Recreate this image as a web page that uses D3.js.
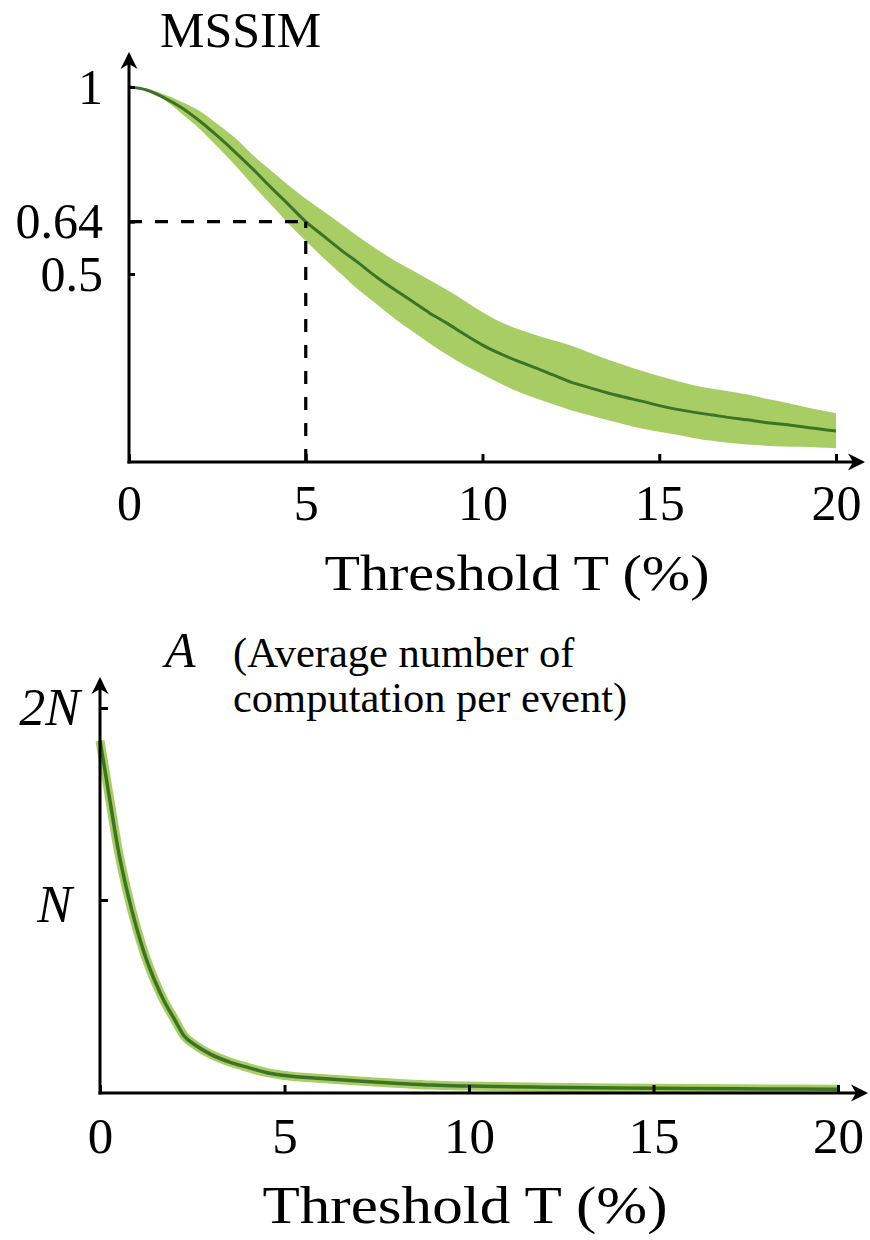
<!DOCTYPE html>
<html>
<head>
<meta charset="utf-8">
<script src="https://cdn.jsdelivr.net/npm/d3@7"></script>
<style>
  html, body { margin: 0; padding: 0; background: #fff; }
  svg { display: block; }
</style>
</head>
<body>
<script>
// ---------- DATA ----------
// Top panel: MSSIM vs threshold T (%)
const mssimT = [0,0.5,1,1.5,2,2.5,3,3.5,4,4.5,5,5.5,6,6.5,7,7.5,8,8.5,9,9.5,10,
                10.5,11,11.5,12,12.5,13,13.5,14,14.5,15,15.5,16,16.5,17,17.5,18,18.5,19,19.5,20];
const mssimMean = [1.000,0.992,0.971,0.944,0.909,0.869,0.826,0.781,0.733,0.687,0.640,
                   0.602,0.564,0.529,0.492,0.459,0.428,0.396,0.368,0.338,0.310,
                   0.287,0.267,0.249,0.230,0.211,0.197,0.183,0.171,0.160,0.148,
                   0.138,0.130,0.123,0.116,0.110,0.103,0.098,0.092,0.086,0.080];
const mssimUpper = [1.000,0.995,0.980,0.960,0.936,0.901,0.864,0.818,0.778,0.738,0.701,
                    0.668,0.634,0.599,0.567,0.537,0.511,0.484,0.457,0.428,0.398,
                    0.372,0.353,0.337,0.323,0.309,0.291,0.273,0.257,0.241,0.227,
                    0.214,0.202,0.193,0.186,0.178,0.167,0.158,0.147,0.137,0.128];
const mssimLower = [1.000,0.989,0.965,0.928,0.888,0.840,0.791,0.738,0.687,0.636,0.588,
                    0.543,0.500,0.457,0.420,0.382,0.348,0.315,0.284,0.256,0.232,
                    0.207,0.186,0.168,0.152,0.136,0.123,0.110,0.098,0.087,0.078,
                    0.070,0.061,0.054,0.048,0.044,0.041,0.039,0.038,0.036,0.034];
const mssimYTicks = [0.5, 0.64, 1];
const markT = 5, markMSSIM = 0.64;

// Bottom panel: average computations per event (in units of N)
const compT = [0,0.25,0.5,0.75,1,1.25,1.5,1.75,2,2.28,2.6,3,3.5,4,4.5,5,6,7,8,9,10,12,14,16,18,20];
const compMean = [1.83,1.54,1.255,1.033,0.849,0.695,0.573,0.469,0.385,0.292,0.242,0.196,
                  0.157,0.128,0.102,0.086,0.070,0.057,0.046,0.036,0.031,0.025,0.021,0.018,0.016,0.014];
const compYTicks = [1, 2];
const compYLabels = ["N", "2N"];

const xTicks = [0, 5, 10, 15, 20];

// ---------- STYLE ----------
const SERIF = '"Liberation Serif", "Times New Roman", serif';
const BAND = "#a8cd64";
const LINE = "#3d7326";

const svg = d3.select("body").append("svg")
  .attr("width", 870).attr("height", 1240)
  .style("background", "#fff");

function arrowHead(x, y, angle) {
  svg.append("path")
    .attr("d", "M0,0 C-4,2 -10,5 -17,8.5 L-12,0 L-17,-8.5 C-10,-5 -4,-2 0,0 Z")
    .attr("transform", `translate(${x},${y}) rotate(${angle})`)
    .attr("fill", "#000");
}

// ================= TOP PANEL =================
const xT = d3.scaleLinear().domain([0, 20]).range([129, 836]);
const yT = d3.scaleLinear().domain([0, 1]).range([461, 87]);
const axisYTop = 462;

const topData = mssimT.map((t, i) => ({t, m: mssimMean[i], u: mssimUpper[i], l: mssimLower[i]}));

svg.append("path").datum(topData)
  .attr("d", d3.area().x(d => xT(d.t)).y0(d => yT(d.l)).y1(d => yT(d.u)).curve(d3.curveMonotoneX))
  .attr("fill", BAND);

svg.append("path").datum(topData)
  .attr("d", d3.line().x(d => xT(d.t)).y(d => yT(d.m)).curve(d3.curveMonotoneX))
  .attr("fill", "none").attr("stroke", LINE).attr("stroke-width", 3);

// dashed guides
svg.append("line")
  .attr("x1", xT(0)).attr("x2", xT(markT))
  .attr("y1", yT(markMSSIM)).attr("y2", yT(markMSSIM))
  .attr("stroke", "#000").attr("stroke-width", 3.2).attr("stroke-dasharray", "13,13");
svg.append("line")
  .attr("x1", xT(markT)).attr("x2", xT(markT))
  .attr("y1", axisYTop).attr("y2", yT(markMSSIM))
  .attr("stroke", "#000").attr("stroke-width", 3.2).attr("stroke-dasharray", "13,13");

// axes
const gxT = svg.append("g").attr("transform", `translate(0,${axisYTop})`)
  .call(d3.axisBottom(xT).tickValues(xTicks).tickSize(-8).tickPadding(22).tickFormat(d3.format("d")));
gxT.select(".domain").remove();
gxT.attr("font-size", 50).attr("font-family", SERIF);
gxT.selectAll(".tick line").attr("stroke", "#000").attr("stroke-width", 3);

const gyT = svg.append("g").attr("transform", `translate(129,0)`)
  .call(d3.axisLeft(yT).tickValues(mssimYTicks).tickSize(-6).tickPadding(26).tickFormat(d => String(d)));
gyT.select(".domain").remove();
gyT.attr("font-size", 50).attr("font-family", SERIF);
gyT.selectAll(".tick line").attr("stroke", "#000").attr("stroke-width", 3);

svg.append("line").attr("x1", 129).attr("x2", 129).attr("y1", axisYTop + 1.5).attr("y2", 60)
  .attr("stroke", "#000").attr("stroke-width", 3);
arrowHead(129, 52, -90);
svg.append("line").attr("x1", 127.5).attr("x2", 856).attr("y1", axisYTop).attr("y2", axisYTop)
  .attr("stroke", "#000").attr("stroke-width", 3);
arrowHead(865, axisYTop, 0);

svg.append("text").attr("x", 160).attr("y", 47)
  .attr("font-family", SERIF).attr("font-size", 50).text("MSSIM");
svg.append("text").attr("x", 517).attr("y", 590).attr("text-anchor", "middle")
  .attr("font-family", SERIF).attr("font-size", 50)
  .attr("textLength", 385).attr("lengthAdjust", "spacingAndGlyphs")
  .text("Threshold T (%)");

// ================= BOTTOM PANEL =================
const xB = d3.scaleLinear().domain([0, 20]).range([100, 838]);
const yB = d3.scaleLinear().domain([0, 2]).range([1092, 708]);
const axisYBot = 1093;

const botData = compT.map((t, i) => ({t, m: compMean[i]}));
const botLine = d3.line().x(d => xB(d.t)).y(d => yB(d.m)).curve(d3.curveMonotoneX);

svg.append("path").datum(botData).attr("d", botLine)
  .attr("fill", "none").attr("stroke", BAND).attr("stroke-width", 9)
  .attr("stroke-linejoin", "round");
svg.append("path").datum(botData).attr("d", botLine)
  .attr("fill", "none").attr("stroke", LINE).attr("stroke-width", 3.5)
  .attr("stroke-linejoin", "round");

const gxB = svg.append("g").attr("transform", `translate(0,${axisYBot})`)
  .call(d3.axisBottom(xB).tickValues(xTicks).tickSize(-8).tickPadding(24).tickFormat(d3.format("d")));
gxB.select(".domain").remove();
gxB.attr("font-size", 51).attr("font-family", SERIF);
gxB.selectAll(".tick line").attr("stroke", "#000").attr("stroke-width", 3);

const gyB = svg.append("g").attr("transform", `translate(100,0)`)
  .call(d3.axisLeft(yB).tickValues(compYTicks).tickSize(-8).tickPadding(20)
    .tickFormat((d, i) => compYLabels[i]));
gyB.select(".domain").remove();
gyB.attr("font-size", 52).attr("font-family", SERIF).attr("font-style", "italic");
gyB.selectAll(".tick line").attr("stroke", "#000").attr("stroke-width", 3);
gyB.selectAll(".tick text").filter(d => d === 1).attr("dx", -8).attr("dy", "0.42em");

svg.append("line").attr("x1", 100).attr("x2", 100).attr("y1", axisYBot + 1.5).attr("y2", 685)
  .attr("stroke", "#000").attr("stroke-width", 3);
arrowHead(100, 677, -90);
svg.append("line").attr("x1", 98.5).attr("x2", 859).attr("y1", axisYBot).attr("y2", axisYBot)
  .attr("stroke", "#000").attr("stroke-width", 3);
arrowHead(868, axisYBot, 0);

svg.append("text").attr("x", 165).attr("y", 667)
  .attr("font-family", SERIF).attr("font-size", 50).attr("font-style", "italic").text("A");
svg.append("text").attr("x", 233).attr("y", 667)
  .attr("font-family", SERIF).attr("font-size", 42.5).text("(Average number of");
svg.append("text").attr("x", 233).attr("y", 712)
  .attr("font-family", SERIF).attr("font-size", 42.5).text("computation per event)");

svg.append("text").attr("x", 465).attr("y", 1223).attr("text-anchor", "middle")
  .attr("font-family", SERIF).attr("font-size", 53)
  .attr("textLength", 405).attr("lengthAdjust", "spacingAndGlyphs")
  .text("Threshold T (%)");
</script>
</body>
</html>
